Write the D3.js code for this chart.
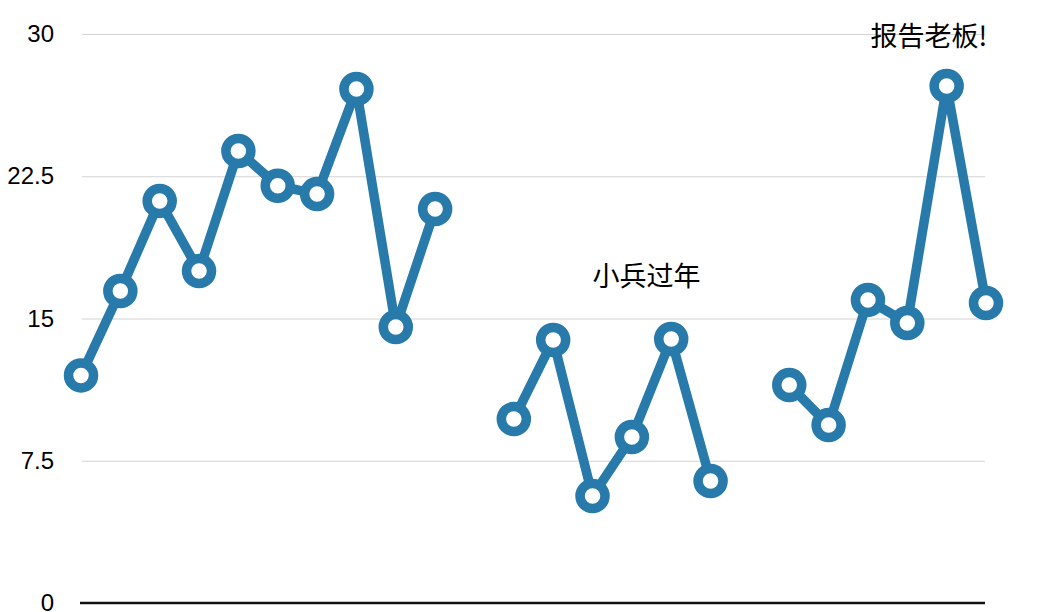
<!DOCTYPE html>
<html lang="zh">
<head>
<meta charset="utf-8">
<script src="https://d3js.org/d3.v7.min.js"></script>
<style>
  body { margin: 0; background: #fff; }
  text { font-family: "Liberation Sans", Arial, sans-serif; }
  .note { font-family: "Noto Sans CJK SC", sans-serif; }
</style>
</head>
<body>
<script>
// one value per slot, null = gap in the line
var values = [12, 16.45, 21.2, 17.5, 23.83, 22, 21.56, 27.1, 14.55, 20.77,
              null,
              9.7, 13.87, 5.64, 8.75, 13.92, 6.43,
              null,
              11.49, 9.38, 15.98, 14.76, 27.26, 15.82];
var yTicks = [0, 7.5, 15, 22.5, 30];
var noteText = ["小兵过年", "报告老板!"];
var noteIndex = [14.37, 23.03];
var noteValue = [17.32, 30];
var noteAnchor = ["middle", "end"];

const W = 1040, H = 612;
const color = "#277aa9";

const svg = d3.select("body").append("svg")
  .attr("width", W)
  .attr("height", H);

const x = d3.scaleLinear().domain([0, values.length - 1]).range([81, 986]);
const y = d3.scaleLinear().domain([0, 30]).range([603, 34]);

// grid lines + labels
const yAxis = d3.axisLeft(y)
  .tickValues(yTicks)
  .tickSize(-903)
  .tickPadding(28)
  .tickFormat(d => d);
const ga = svg.append("g")
  .attr("transform", "translate(82,0)")
  .call(yAxis);
ga.select(".domain").remove();
ga.selectAll(".tick line").attr("stroke", "#d3d3d3").attr("stroke-width", 1);
ga.selectAll(".tick text")
  .attr("font-size", 24)
  .attr("font-family", "Liberation Sans, Arial, sans-serif")
  .attr("fill", "#000");
ga.selectAll(".tick").filter(d => d === 0).select("line").remove();

// baseline
svg.append("line")
  .attr("x1", 80).attr("x2", 985)
  .attr("y1", y(0)).attr("y2", y(0))
  .attr("stroke", "#111")
  .attr("stroke-width", 2.5);

// the line, broken at nulls
const line = d3.line()
  .defined(d => d != null)
  .x((d, i) => x(i))
  .y(d => y(d));

svg.append("path")
  .datum(values)
  .attr("fill", "none")
  .attr("stroke", color)
  .attr("stroke-width", 9.5)
  .attr("stroke-linejoin", "round")
  .attr("d", line);

// markers
svg.selectAll(".dot")
  .data(values.map((v, i) => ({v: v, i: i})).filter(d => d.v != null))
  .enter()
  .append("circle")
  .attr("class", "dot")
  .attr("cx", d => x(d.i))
  .attr("cy", d => y(d.v))
  .attr("r", 12.5)
  .attr("fill", "#fff")
  .attr("stroke", color)
  .attr("stroke-width", 9.5);

// annotations
svg.selectAll(".note")
  .data(noteText)
  .enter()
  .append("text")
  .attr("class", "note")
  .attr("x", (d, i) => x(noteIndex[i]))
  .attr("y", (d, i) => y(noteValue[i]))
  .attr("text-anchor", (d, i) => noteAnchor[i])
  .attr("dominant-baseline", "central")
  .attr("font-size", 27)
  .attr("fill", "#000")
  .text(d => d);
</script>
</body>
</html>
